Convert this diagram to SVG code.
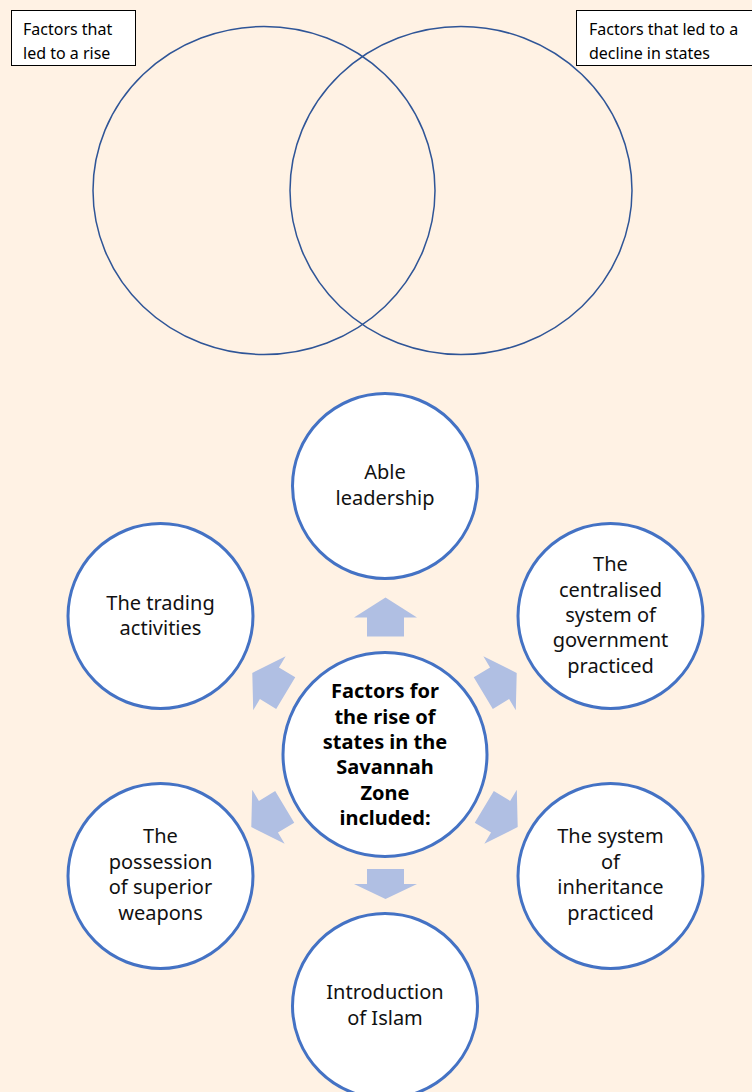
<svg xmlns="http://www.w3.org/2000/svg" width="752" height="1092" viewBox="0 0 752 1092">
  <defs>
    <style>
      .venn { fill: none; stroke: #2F5597; stroke-width: 1.5; }
      .lbl { fill: #FFFFFF; stroke: #000000; stroke-width: 1; }
      .lt { font-family: "Noto Sans", "Liberation Sans", sans-serif; font-size: 16px; fill: #000000; }
      .node { fill: #FFFFFF; stroke: #4472C4; stroke-width: 3; }
      .nt { font-family: "Noto Sans", "Liberation Sans", sans-serif; font-size: 20px; fill: #111111; text-anchor: middle; }
      .ct { font-family: "Noto Sans", "Liberation Sans", sans-serif; font-size: 20px; font-weight: bold; fill: #000000; text-anchor: middle; }
      .arr { fill: #B0BFE3; }
    </style>
    <polygon id="arrow" points="0,-19.5 31.5,0.5 18.5,0.5 18.5,19.5 -18.5,19.5 -18.5,0.5 -31.5,0.5"/>
  </defs>

  <rect x="0" y="0" width="752" height="1092" fill="#FFF2E4"/>

  <!-- Venn diagram -->
  <g id="venn">
    <ellipse class="venn" cx="264" cy="190.5" rx="171" ry="164"/>
    <ellipse class="venn" cx="461" cy="190.5" rx="171" ry="164"/>
  </g>

  <g id="label-rise">
    <rect class="lbl" x="11.5" y="10.5" width="124" height="55"/>
    <text class="lt" x="23" y="35">Factors that</text>
    <text class="lt" x="23" y="59">led to a rise</text>
  </g>

  <g id="label-decline">
    <rect class="lbl" x="576.5" y="10.5" width="180" height="55"/>
    <text class="lt" x="589" y="35">Factors that led to a</text>
    <text class="lt" x="589" y="59">decline in states</text>
  </g>

  <!-- Connectors (arrows) -->
  <g id="connectors" class="arr">
    <use href="#arrow" transform="translate(385.5,617)"/>
    <use href="#arrow" transform="translate(269,683) rotate(-59)"/>
    <use href="#arrow" transform="translate(500,683) rotate(59)"/>
    <use href="#arrow" transform="translate(268,817) rotate(-121)"/>
    <use href="#arrow" transform="translate(501,817) rotate(121)"/>
    <polygon points="367,869 404,869 404,884 417,884 385.5,899 354,884 367,884"/>
  </g>

  <g id="center">
    <circle class="node" cx="385" cy="754.5" r="102"/>
    <text class="ct" x="385" y="698">Factors for</text>
    <text class="ct" x="385" y="723.5">the rise of</text>
    <text class="ct" x="385" y="749">states in the</text>
    <text class="ct" x="385" y="774">Savannah</text>
    <text class="ct" x="385" y="799.5">Zone</text>
    <text class="ct" x="385" y="825">included:</text>
  </g>

  <g id="node-leadership">
    <circle class="node" cx="385" cy="486" r="92.5"/>
    <text class="nt" x="385" y="479">Able</text>
    <text class="nt" x="385" y="504.5">leadership</text>
  </g>

  <g id="node-government">
    <circle class="node" cx="610.5" cy="616" r="92.5"/>
    <text class="nt" x="610.5" y="571">The</text>
    <text class="nt" x="610.5" y="597">centralised</text>
    <text class="nt" x="610.5" y="622">system of</text>
    <text class="nt" x="610.5" y="647">government</text>
    <text class="nt" x="610.5" y="673">practiced</text>
  </g>

  <g id="node-trading">
    <circle class="node" cx="160.5" cy="616" r="92.5"/>
    <text class="nt" x="160.5" y="610">The trading</text>
    <text class="nt" x="160.5" y="635">activities</text>
  </g>

  <g id="node-weapons">
    <circle class="node" cx="160.5" cy="876" r="92.5"/>
    <text class="nt" x="160.5" y="843">The</text>
    <text class="nt" x="160.5" y="869">possession</text>
    <text class="nt" x="160.5" y="894">of superior</text>
    <text class="nt" x="160.5" y="920">weapons</text>
  </g>

  <g id="node-inheritance">
    <circle class="node" cx="610.5" cy="876" r="92.5"/>
    <text class="nt" x="610.5" y="843">The system</text>
    <text class="nt" x="610.5" y="869">of</text>
    <text class="nt" x="610.5" y="894">inheritance</text>
    <text class="nt" x="610.5" y="920">practiced</text>
  </g>

  <g id="node-islam">
    <circle class="node" cx="385" cy="1006" r="92.5"/>
    <text class="nt" x="385" y="999">Introduction</text>
    <text class="nt" x="385" y="1024.5">of Islam</text>
  </g>
</svg>
